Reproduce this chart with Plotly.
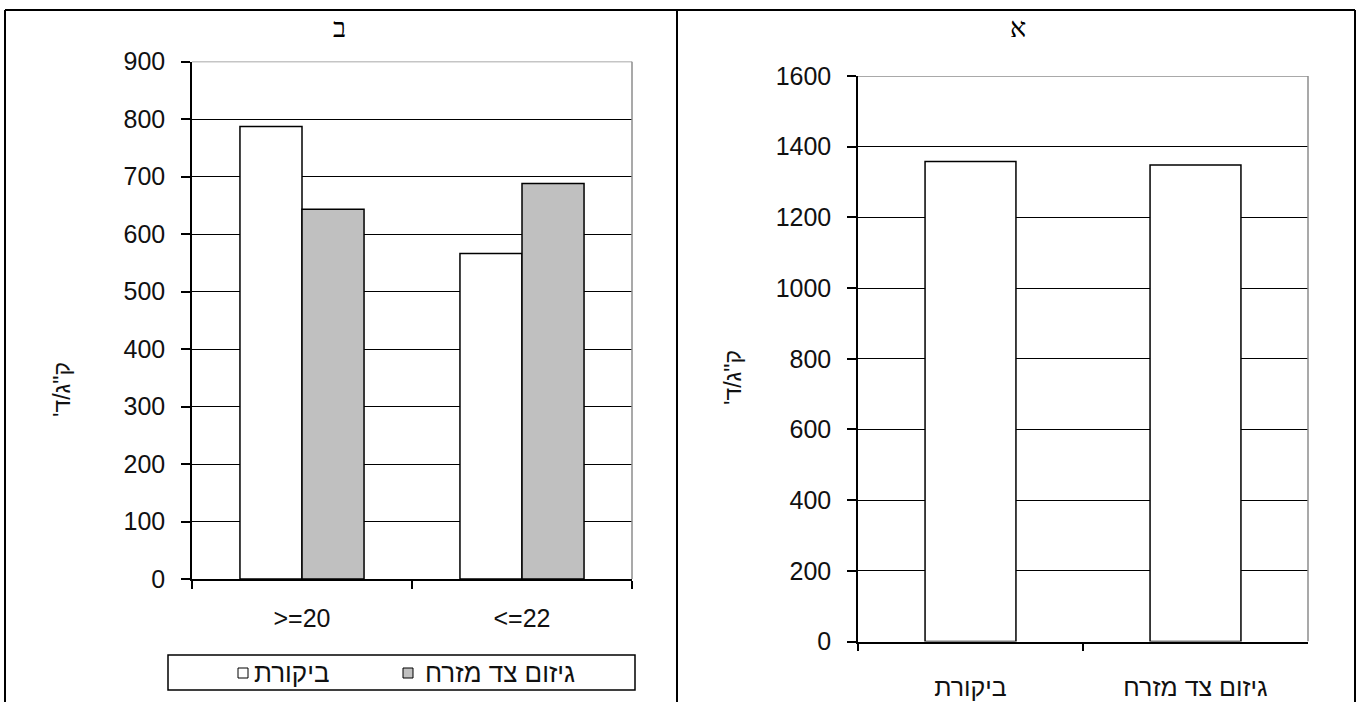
import plotly.graph_objects as go

W, H = 1361, 702

# Panel ב : grouped bars by temperature class
cat_b = [">=20", "<=22"]
control_b = [787, 566]
pruned_b = [643, 688]

# Panel א : overall totals
cat_a = ["ביקורת", "גיזום צד מזרח"]
values_a = [1358, 1348]

series_names = ["ביקורת", "גיזום צד מזרח"]
y_title = "ק\"ג/ד'\u200f"
panel_titles = ["ב", "א"]

SANS = "Liberation Sans, Arial, sans-serif"
TICK_FONT = dict(family=SANS, size=25, color="#111")


def fx(px):
    return px / W


def fy(py):
    return 1 - py / H


fig = go.Figure()

fig.add_trace(go.Bar(
    x=cat_b, y=control_b, name=series_names[0], xaxis="x", yaxis="y",
    marker=dict(color="#ffffff", line=dict(color="#000", width=1.5)),
))
fig.add_trace(go.Bar(
    x=cat_b, y=pruned_b, name=series_names[1], xaxis="x", yaxis="y",
    marker=dict(color="#c0c0c0", line=dict(color="#000", width=1.5)),
))
fig.add_trace(go.Bar(
    x=cat_a, y=values_a, name=series_names[0], xaxis="x2", yaxis="y2",
    width=0.404,
    marker=dict(color="#ffffff", line=dict(color="#000", width=1.5)),
))

common_x = dict(
    type="category", showline=True, linecolor="#000", linewidth=1.5,
    ticks="outside", tickson="boundaries", ticklen=8, tickcolor="#000",
    tickwidth=1.5, showgrid=False, tickfont=TICK_FONT, fixedrange=True,
    automargin=False,
)
common_y = dict(
    showline=True, linecolor="#000", linewidth=1.5, ticks="outside",
    ticklen=9, tickcolor="#000", tickwidth=1.5, showgrid=True,
    gridcolor="#000", gridwidth=1.2, zeroline=False, tickfont=TICK_FONT,
    ticklabelstandoff=11, fixedrange=True, automargin=False,
)

fig.update_layout(
    width=W, height=H,
    margin=dict(l=0, r=0, t=0, b=0, pad=0, autoexpand=False),
    paper_bgcolor="#fff", plot_bgcolor="#fff",
    barmode="group", bargap=0.436, bargroupgap=0,
    showlegend=False,
    xaxis=dict(domain=[fx(192), fx(632)], anchor="y", ticklabelstandoff=16, **common_x),
    yaxis=dict(domain=[fy(579), fy(61.5)], anchor="x", range=[0, 900], dtick=100, **common_y),
    xaxis2=dict(domain=[fx(858), fx(1308)], anchor="y2", ticklabelstandoff=23, **common_x),
    yaxis2=dict(domain=[fy(641.5), fy(76)], anchor="x2", range=[0, 1600], dtick=200, **common_y),
)

shapes = []
# grey plot-area border on top and right sides
for xr, yr, top in (("x domain", "y", 900), ("x2 domain", "y2", 1600)):
    shapes.append(dict(type="line", xref=xr, yref=yr, x0=0, x1=1, y0=top, y1=top,
                       line=dict(color="#8c8c8c", width=1.5), layer="above"))
    shapes.append(dict(type="line", xref=xr, yref=yr, x0=1, x1=1, y0=0, y1=top,
                       line=dict(color="#8c8c8c", width=1.5), layer="above"))

# table frame around the two panels
frame = dict(color="#000", width=2)
shapes += [
    dict(type="line", xref="paper", yref="paper", x0=fx(5), x1=fx(1355), y0=fy(10), y1=fy(10), line=frame),
    dict(type="line", xref="paper", yref="paper", x0=fx(5), x1=fx(5), y0=fy(10), y1=0, line=frame),
    dict(type="line", xref="paper", yref="paper", x0=fx(677), x1=fx(677), y0=fy(10), y1=0, line=frame),
    dict(type="line", xref="paper", yref="paper", x0=fx(1355), x1=fx(1355), y0=fy(10), y1=0, line=frame),
]

# legend box for panel ב: (swatch x, text x, fill, label)
shapes.append(dict(type="rect", xref="paper", yref="paper", x0=fx(168), x1=fx(635),
                   y0=fy(690), y1=fy(655), line=dict(color="#000", width=1.5), fillcolor="#fff"))
legend_items = [(238, 252, "#ffffff", series_names[0]), (403, 423, "#c0c0c0", series_names[1])]
for sx, _, col, _ in legend_items:
    shapes.append(dict(type="rect", xref="paper", yref="paper", x0=fx(sx), x1=fx(sx + 10),
                       y0=fy(678), y1=fy(668), line=dict(color="#000", width=1), fillcolor=col))
fig.update_layout(shapes=shapes)

annotations = []
for _, tx, _, label in legend_items:
    annotations.append(dict(xref="paper", yref="paper", x=fx(tx), y=fy(673),
                            xanchor="left", yanchor="middle", text=label, showarrow=False,
                            font=dict(family=SANS, size=26, color="#111")))

# panel titles
for cx, t in ((339, panel_titles[0]), (1018, panel_titles[1])):
    annotations.append(dict(xref="paper", yref="paper", x=fx(cx), y=fy(28), text=t,
                            showarrow=False, xanchor="center", yanchor="middle",
                            font=dict(family="Liberation Serif, DejaVu Serif, serif", size=27, color="#000")))

# rotated y-axis titles
for cx, cy in ((62, 390), (733, 378)):
    annotations.append(dict(xref="paper", yref="paper", x=fx(cx), y=fy(cy), text=y_title,
                            textangle=-90, showarrow=False, xanchor="center", yanchor="middle",
                            font=dict(family=SANS, size=23, color="#111")))

fig.update_layout(annotations=annotations)

fig.write_html("out.html", config=dict(displayModeBar=False))
